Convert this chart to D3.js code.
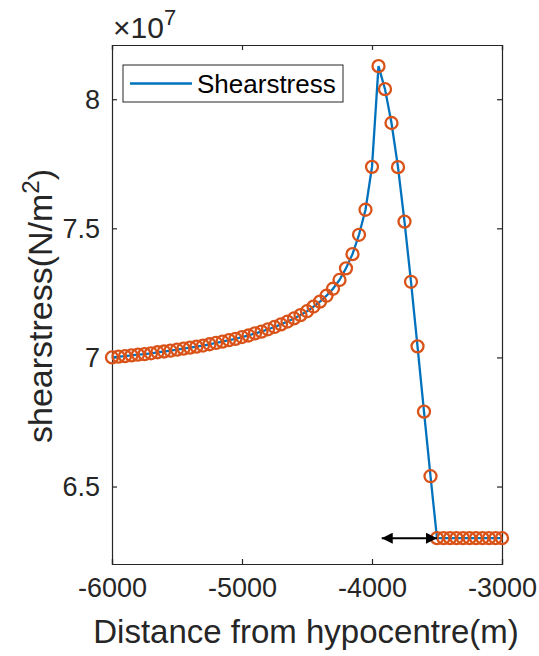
<html>
<head>
    <meta charset="utf-8">
    <script src="https://d3js.org/d3.v7.min.js"></script>
    <style>
        body { margin: 0; background: #fff; }
        svg { display: block; font-family: "Liberation Sans", Arial, sans-serif; }
        .axis path, .axis line { stroke: #262626; stroke-width: 1.2; }
        .axis text { fill: #262626; font-size: 27px; }
    </style>
</head>
<body>
<svg width="539" height="656"></svg>
<script>
    // distance from hypocentre (m), 50 m steps
    const distances = d3.range(-6000, -2999, 50);
    // shear stress in units of 1e7 N/m^2
    const stress = [
        7.000, 7.003, 7.005, 7.008, 7.011, 7.013, 7.016, 7.020, 7.023, 7.026,
        7.030, 7.034, 7.038, 7.042, 7.046, 7.051, 7.056, 7.061, 7.067, 7.072,
        7.079, 7.085, 7.093, 7.100, 7.109, 7.118, 7.128, 7.139, 7.151, 7.164,
        7.179, 7.197, 7.216, 7.239, 7.266, 7.300, 7.345, 7.400, 7.475, 7.572,
        7.738, 8.128, 8.039, 7.908, 7.737, 7.526, 7.293, 7.043, 6.790, 6.540,
        6.300, 6.300, 6.300, 6.300, 6.300, 6.300, 6.300, 6.300, 6.300, 6.300,
        6.300
    ];
    const xTicks = [-6000, -5000, -4000, -3000];
    const yTicks = [6.5, 7, 7.5, 8];
    const arrowFrom = -3925, arrowTo = -3500, arrowLevel = 6.3;

    const width = 539, height = 656, margin = { top: 45, right: 37, bottom: 92, left: 112 };
    const svg = d3.select("svg");

    const x = d3.scaleLinear().domain([-6000, -3000]).range([margin.left, width - margin.right]);
    const y = d3.scaleLinear().domain([6.2, 8.21]).range([height - margin.bottom, margin.top]);

    const data = distances.map((d, i) => ({ x: d, y: stress[i] }));

    // box + ticks
    svg.append("g").attr("class", "axis")
       .attr("transform", `translate(0,${height - margin.bottom})`)
       .call(d3.axisBottom(x).tickValues(xTicks).tickSize(-5).tickPadding(24).tickFormat(d => String(d)));
    svg.append("g").attr("class", "axis")
       .attr("transform", `translate(0,${margin.top})`)
       .call(d3.axisTop(x).tickValues(xTicks).tickSize(-5).tickFormat(""));
    svg.append("g").attr("class", "axis")
       .attr("transform", `translate(${margin.left},0)`)
       .call(d3.axisLeft(y).tickValues(yTicks).tickSize(-5).tickPadding(12).tickFormat(d => String(d)));
    svg.append("g").attr("class", "axis")
       .attr("transform", `translate(${width - margin.right},0)`)
       .call(d3.axisRight(y).tickValues(yTicks).tickSize(-5).tickFormat(""));
    svg.selectAll(".axis .tick text").attr("dy", null).attr("dominant-baseline", "central");
    svg.selectAll(".axis .domain").attr("fill", "none");

    // data line
    svg.append("path")
       .datum(data)
       .attr("fill", "none")
       .attr("stroke", "#0072BD")
       .attr("stroke-width", 2.3)
       .attr("d", d3.line().x(d => x(d.x)).y(d => y(d.y)));

    // markers
    svg.append("g").selectAll("circle")
       .data(data)
       .enter().append("circle")
       .attr("cx", d => x(d.x))
       .attr("cy", d => y(d.y))
       .attr("r", 6)
       .attr("fill", "none")
       .attr("stroke", "#D95319")
       .attr("stroke-width", 2.3);

    // double arrow
    const defs = svg.append("defs");
    defs.append("marker").attr("id", "ah")
        .attr("viewBox", "0 0 10 10").attr("refX", 10).attr("refY", 5)
        .attr("markerWidth", 13).attr("markerHeight", 11).attr("markerUnits", "userSpaceOnUse")
        .attr("orient", "auto-start-reverse")
        .append("path").attr("d", "M0,0 L10,5 L0,10 z").attr("fill", "#000");
    svg.append("line")
       .attr("x1", x(arrowFrom)).attr("x2", x(arrowTo))
       .attr("y1", y(arrowLevel)).attr("y2", y(arrowLevel))
       .attr("stroke", "#000").attr("stroke-width", 2)
       .attr("marker-start", "url(#ah)").attr("marker-end", "url(#ah)");

    // legend
    const lg = svg.append("g").attr("transform", "translate(123,65)");
    lg.append("rect").attr("width", 220).attr("height", 37)
      .attr("fill", "#fff").attr("stroke", "#262626").attr("stroke-width", 1);
    lg.append("line").attr("x1", 7).attr("x2", 69).attr("y1", 18.5).attr("y2", 18.5)
      .attr("stroke", "#0072BD").attr("stroke-width", 2.3);
    lg.append("text").attr("x", 74).attr("y", 19).attr("dominant-baseline", "central")
      .attr("font-size", 26).attr("fill", "#000").text("Shearstress");

    // exponent
    const ex = svg.append("text").attr("x", 113).attr("y", 38).attr("fill", "#262626").attr("font-size", 30);
    ex.append("tspan").text("\u00d710");
    ex.append("tspan").attr("dy", -13).attr("font-size", 22).text("7");

    // axis labels
    svg.append("text")
       .attr("x", 306)
       .attr("y", 643)
       .attr("text-anchor", "middle")
       .attr("fill", "#262626").attr("font-size", 33)
       .text("Distance from hypocentre(m)");
    const yl = svg.append("text")
       .attr("transform", `translate(52,306) rotate(-90)`)
       .attr("text-anchor", "middle")
       .attr("fill", "#262626").attr("font-size", 34);
    yl.append("tspan").text("shearstress(N/m");
    yl.append("tspan").attr("dy", -13).attr("font-size", 24).text("2");
    yl.append("tspan").attr("dy", 13).text(")");
</script>
</body>
</html>
